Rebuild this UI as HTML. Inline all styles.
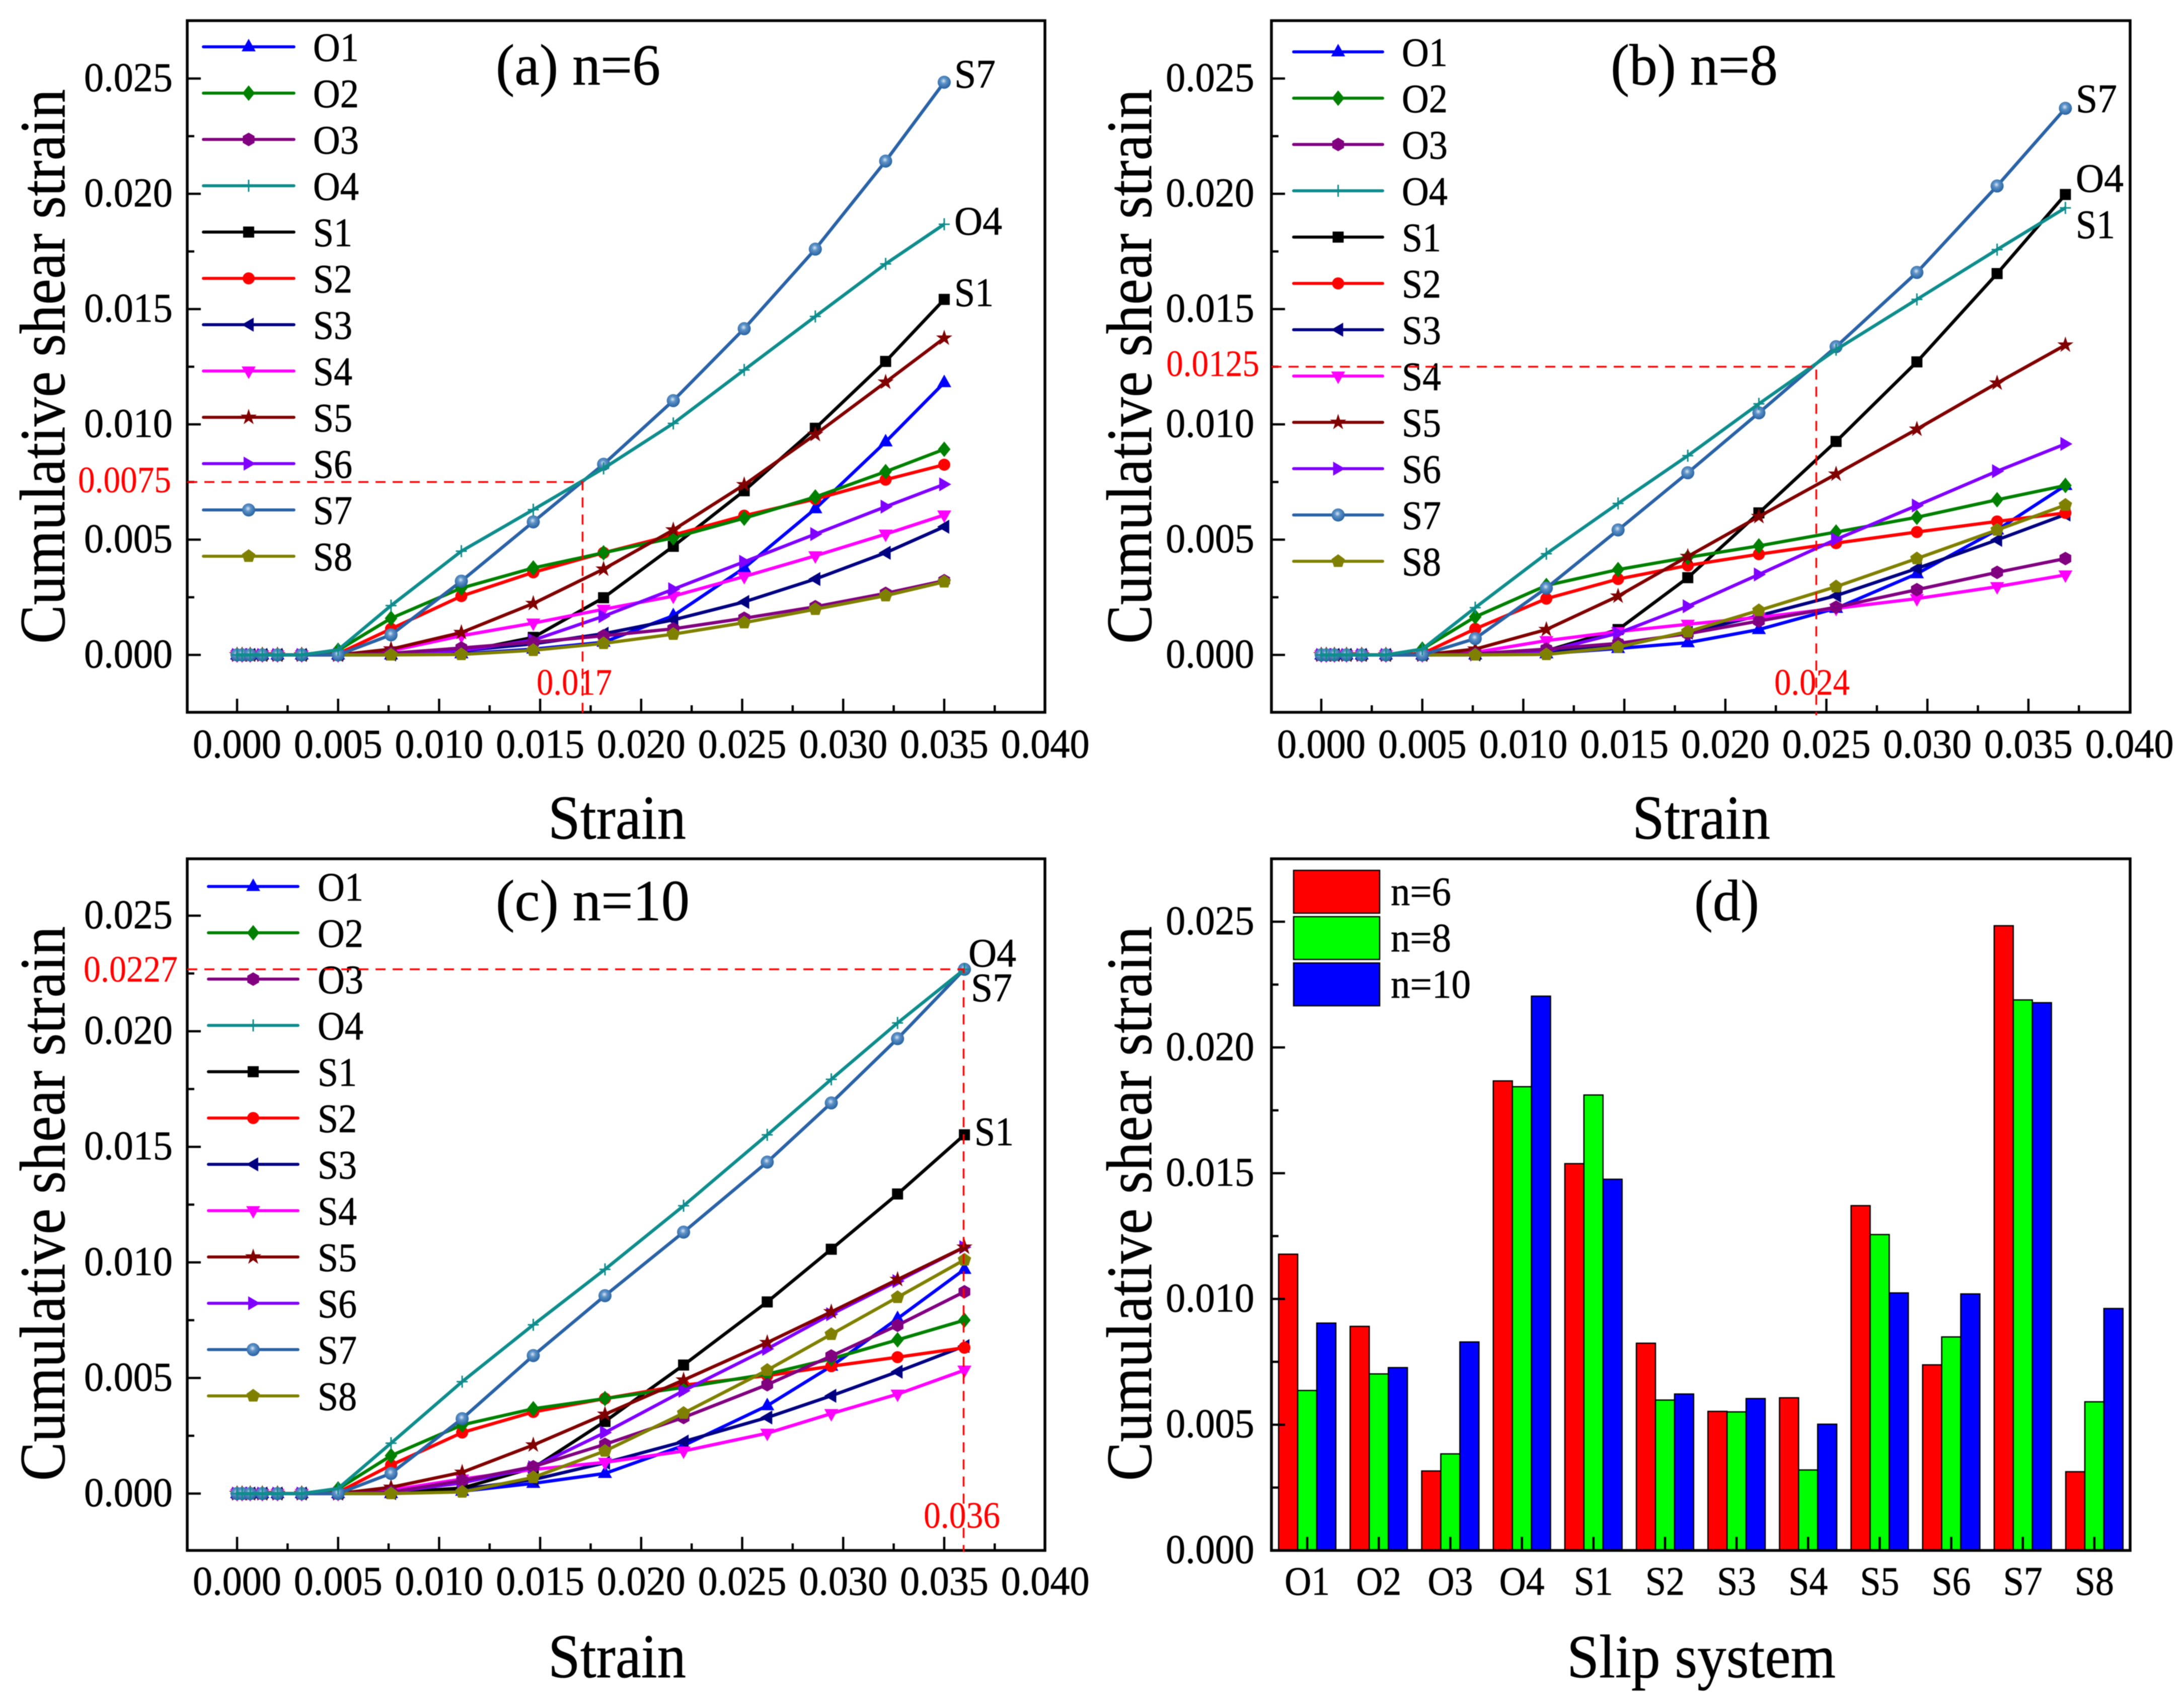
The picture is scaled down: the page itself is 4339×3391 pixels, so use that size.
<!DOCTYPE html>
<html lang="en">
<head>
<meta charset="utf-8">
<title>Cumulative shear strain of slip systems</title>
<style>
html,body{margin:0;padding:0;background:#fff;}
svg{display:block;filter:blur(0.8px);}
text{font-family:"Liberation Serif","Times New Roman",serif;fill:#000;stroke:#000;stroke-width:0.7px;}
</style>
</head>
<body>
<svg id="figure" xmlns="http://www.w3.org/2000/svg" width="4339" height="3391" viewBox="0 0 4339 3391">
<defs>
<radialGradient id="sphere" cx="0.45" cy="0.4" r="0.6">
<stop offset="0" stop-color="#d8e6f4"/>
<stop offset="0.35" stop-color="#5f93c8"/>
<stop offset="1" stop-color="#24609f"/>
</radialGradient>
</defs>
<rect x="0" y="0" width="4339" height="3391" fill="#fff"/>
</svg>
<script>
// ---------- shared data ----------
const slipSystems = ['O1','O2','O3','O4','S1','S2','S3','S4','S5','S6','S7','S8'];
const strainTicks = [0,0.005,0.01,0.015,0.02,0.025,0.03,0.035,0.04];
const strainTickLabels = ['0.000','0.005','0.010','0.015','0.020','0.025','0.030','0.035','0.040'];
const shearTicks = [0,0.005,0.01,0.015,0.02,0.025];
const shearTickLabels = ['0.000','0.005','0.010','0.015','0.020','0.025'];

// ---------- panel (a) n=6 ----------
const strainA = [0,0.00025,0.00065,0.00125,0.002,0.0032,0.005,0.00762,0.0111,0.01466,0.01814,0.02159,0.0251,0.02862,0.0321,0.035];
const a_O1 = [0,0,0,0,0,0,0,0,0.00005,0.00025,0.00055,0.0017,0.00377,0.00634,0.00924,0.01181];
const a_O2 = [0,0,0,0,0,0,0.0002,0.00159,0.0029,0.00377,0.00443,0.00508,0.00593,0.00685,0.00795,0.00892];
const a_O3 = [0,0,0,0,0,0,0,0.00007,0.0003,0.00055,0.00083,0.00113,0.00159,0.00209,0.00267,0.00322];
const a_O4 = [0,0,0,0,0,0,0.00022,0.00214,0.0045,0.0063,0.00809,0.01004,0.01236,0.01468,0.01696,0.01868];
const a_S1 = [0,0,0,0,0,0,0,0.00003,0.00014,0.00076,0.00248,0.00471,0.00712,0.00983,0.01273,0.01542];
const a_S2 = [0,0,0,0,0,0,0.00005,0.00113,0.00255,0.00358,0.00443,0.0052,0.00604,0.00676,0.0076,0.00825];
const a_S3 = [0,0,0,0,0,0,0,0.00002,0.00018,0.00048,0.00092,0.00152,0.0023,0.00329,0.00443,0.00556];
const a_S4 = [0,0,0,0,0,0,0,0.00018,0.00083,0.00138,0.00198,0.00255,0.0034,0.0043,0.00524,0.00607];
const a_S5 = [0,0,0,0,0,0,0,0.00025,0.00097,0.00223,0.00372,0.00542,0.00738,0.00956,0.01183,0.01374];
const a_S6 = [0,0,0,0,0,0,0,0.00005,0.00018,0.00064,0.00168,0.00285,0.00404,0.00524,0.00643,0.0074];
const a_S7 = [0,0,0,0,0,0,0,0.00087,0.0032,0.00577,0.00827,0.01103,0.01415,0.0176,0.02142,0.02484];
const a_S8 = [0,0,0,0,0,0,0,0,0.00002,0.0002,0.0005,0.0009,0.0014,0.00198,0.00257,0.00317];

// ---------- panel (b) n=8 ----------
const strainB = [0,0.00025,0.00065,0.00125,0.002,0.0032,0.005,0.00762,0.01114,0.01469,0.01814,0.02166,0.02548,0.02948,0.03345,0.03683];
const b_O1 = [0,0,0,0,0,0,0,0,0.00005,0.00028,0.00053,0.0011,0.00202,0.00352,0.00542,0.00735];
const b_O2 = [0,0,0,0,0,0,0.00025,0.00165,0.00301,0.0037,0.00423,0.00473,0.00533,0.00597,0.00673,0.00735];
const b_O3 = [0,0,0,0,0,0,0,0.00005,0.00025,0.0005,0.00092,0.00147,0.00207,0.00283,0.00358,0.00418];
const b_O4 = [0,0,0,0,0,0,0.00025,0.00205,0.00439,0.00657,0.00864,0.01089,0.01324,0.01542,0.01758,0.01939];
const b_S1 = [0,0,0,0,0,0,0,0.00002,0.00018,0.0011,0.00335,0.00616,0.00926,0.01271,0.01654,0.01997];
const b_S2 = [0,0,0,0,0,0,0.00005,0.00113,0.00244,0.00329,0.00388,0.00437,0.00485,0.00533,0.00579,0.00616];
const b_S3 = [0,0,0,0,0,0,0,0.00002,0.00014,0.00041,0.00097,0.0017,0.00257,0.00375,0.00499,0.00609];
const b_S4 = [0,0,0,0,0,0,0,0.00011,0.00062,0.00101,0.00133,0.00163,0.00202,0.00244,0.00296,0.00347];
const b_S5 = [0,0,0,0,0,0,0,0.00025,0.0011,0.00255,0.00427,0.006,0.00784,0.00979,0.01179,0.01344];
const b_S6 = [0,0,0,0,0,0,0,0.00002,0.00016,0.00094,0.00211,0.00349,0.00501,0.00648,0.00797,0.00915];
const b_S7 = [0,0,0,0,0,0,0,0.00071,0.0029,0.00542,0.0079,0.0105,0.01337,0.01659,0.02034,0.02371];
const b_S8 = [0,0,0,0,0,0,0,0,0.00002,0.00034,0.00101,0.00193,0.00296,0.00418,0.00542,0.0065];

// ---------- panel (c) n=10 ----------
const strainC = [0,0.00025,0.00065,0.00125,0.002,0.0032,0.005,0.00762,0.01114,0.01466,0.01821,0.0221,0.02624,0.02941,0.03269,0.036];
const c_O1 = [0,0,0,0,0,0,0,0,0.0001,0.00044,0.00087,0.00208,0.0038,0.00551,0.00757,0.0097];
const c_O2 = [0,0,0,0,0,0,0.0002,0.00164,0.00297,0.00367,0.00411,0.00459,0.00517,0.00583,0.00665,0.0075];
const c_O3 = [0,0,0,0,0,0,0,0.00007,0.00056,0.00116,0.00213,0.00329,0.00471,0.00595,0.00728,0.00873];
const c_O4 = [0,0,0,0,0,0,0.00022,0.00218,0.00484,0.0073,0.0097,0.01245,0.01552,0.01792,0.02036,0.02268];
const c_S1 = [0,0,0,0,0,0,0,0.00005,0.00024,0.00111,0.00312,0.00556,0.00829,0.01057,0.01296,0.01552];
const c_S2 = [0,0,0,0,0,0,0.00005,0.00123,0.00264,0.00353,0.00411,0.00469,0.0051,0.00551,0.0059,0.00631];
const c_S3 = [0,0,0,0,0,0,0,0.00002,0.00019,0.0006,0.00133,0.00225,0.00329,0.00423,0.00527,0.00638];
const c_S4 = [0,0,0,0,0,0,0,0.00015,0.00063,0.00104,0.00135,0.00184,0.00261,0.00346,0.0043,0.00534];
const c_S5 = [0,0,0,0,0,0,0,0.00027,0.00092,0.0021,0.00343,0.00491,0.00653,0.00786,0.00926,0.01066];
const c_S6 = [0,0,0,0,0,0,0,0.00007,0.00046,0.00114,0.00264,0.00445,0.00626,0.00776,0.00919,0.01066];
const c_S7 = [0,0,0,0,0,0,0,0.00087,0.00324,0.00597,0.00856,0.01131,0.01434,0.0169,0.01968,0.02268];
const c_S8 = [0,0,0,0,0,0,0,0,0.00007,0.0007,0.00184,0.00348,0.00534,0.00689,0.00849,0.01011];

// ---------- panel (d) bars ----------
const barN6 = [0.01178,0.00891,0.00316,0.01867,0.01538,0.00824,0.00553,0.00607,0.01371,0.00738,0.02484,0.00313];
const barN8 = [0.00636,0.00702,0.00384,0.01844,0.01811,0.00598,0.00551,0.0032,0.01256,0.00849,0.02189,0.00591];
const barN10 = [0.00904,0.00727,0.00829,0.02204,0.01476,0.00622,0.00604,0.00502,0.01024,0.0102,0.02178,0.00962];

// ---------- styling ----------
const seriesColor = {O1:'#0000ff',O2:'#008000',O3:'#800080',O4:'#0f8c8c',S1:'#000000',S2:'#ff0000',S3:'#000080',S4:'#ff00ff',S5:'#800000',S6:'#8000ff',S7:'#2a62a6',S8:'#808000'};
const drawOrder = ['O1','S3','S1','S2','O2','S4','S6','S5','O3','S8','S7','O4'];
const NS = 'http://www.w3.org/2000/svg';
const root = document.getElementById('figure');

function el(parent, tag, attrs){
  const e = document.createElementNS(NS, tag);
  for (const k in attrs) e.setAttribute(k, attrs[k]);
  parent.appendChild(e);
  return e;
}
function txt(parent, str, x, y, size, len, anchor, fill, rot){
  const t = document.createElementNS(NS, 'text');
  t.setAttribute('x', x);
  t.setAttribute('y', y);
  t.setAttribute('font-size', size);
  t.setAttribute('text-anchor', anchor || 'start');
  if (len) { t.setAttribute('textLength', len); t.setAttribute('lengthAdjust', 'spacingAndGlyphs'); }
  if (fill) { t.style.fill = fill; t.style.stroke = fill; t.style.strokeWidth = '0.3px'; }
  if (rot) t.setAttribute('transform', 'rotate(' + rot + ' ' + x + ' ' + y + ')');
  t.textContent = str;
  parent.appendChild(t);
  return t;
}
function poly(cx, cy, pts){
  return pts.map(p => (cx + p[0]).toFixed(1) + ',' + (cy + p[1]).toFixed(1)).join(' ');
}
function regular(n, r, start, inner){
  const out = [];
  const m = inner ? n * 2 : n;
  for (let i = 0; i < m; i++){
    const rad = inner && i % 2 ? inner : r;
    const a = start + i * 2 * Math.PI / m;
    out.push([rad * Math.cos(a), rad * Math.sin(a)]);
  }
  return out;
}
const shapes = {
  O1:[[0,-16],[14,9],[-14,9]],
  O2:[[0,-15.5],[12.5,0],[0,15.5],[-12.5,0]],
  O3:regular(6,13.5,-Math.PI/2),
  S3:[[-14,0],[10,-14],[10,14]],
  S4:[[-14,-9],[14,-9],[0,16]],
  S5:regular(5,17,-Math.PI/2,6.5),
  S6:[[14,0],[-10,-14],[-10,14]],
  S8:regular(5,14,-Math.PI/2)
};
function marker(parent, key, cx, cy){
  const c = seriesColor[key];
  if (shapes[key]) {
    el(parent, 'polygon', {points: poly(cx, cy, shapes[key]), fill: c});
  } else if (key === 'O4') {
    el(parent, 'path', {d: 'M' + (cx-11) + ' ' + cy + 'H' + (cx+11) + 'M' + cx + ' ' + (cy-12) + 'V' + (cy+12), stroke: c, 'stroke-width': 3, fill: 'none'});
  } else if (key === 'S1') {
    el(parent, 'rect', {x: cx-11, y: cy-11, width: 22, height: 22, fill: c});
  } else if (key === 'S2') {
    el(parent, 'circle', {cx: cx, cy: cy, r: 12, fill: c});
  } else if (key === 'S7') {
    el(parent, 'circle', {cx: cx, cy: cy, r: 13, fill: 'url(#sphere)'});
  }
}

// ---------- panel layouts ----------
const panelA = {id:'a',L:372,R:2076,T:41,B:1415,x0:471,xPer:200.7,y0:1301,yPer:229};
const panelB = {id:'b',L:2526,R:4232,T:41,B:1415,x0:2625,xPer:200.7,y0:1301,yPer:229};
const panelC = {id:'c',L:372,R:2076,T:1706,B:3080,x0:471,xPer:200.7,y0:2967,yPer:229.6};
const panelD = {id:'d',L:2526,R:4232,T:1706,B:3080,y0:3080,yPer:249.8};

function xOf(p, v){ return p.x0 + v / 0.005 * p.xPer; }
function yOf(p, v){ return p.y0 - v / 0.005 * p.yPer; }

function drawSeries(p, strain, table){
  const g = el(root, 'g', {});
  
  
  drawOrder.forEach(key => {
    const vals = table[key];
    const s = el(g, 'g', {});
    
    
    const d = vals.map((v, i) => (i ? 'L' : 'M') + xOf(p, strain[i]).toFixed(1) + ' ' + yOf(p, v).toFixed(1)).join('');
    const line = el(s, 'path', {d: d, fill: 'none', stroke: seriesColor[key], 'stroke-width': 6.5, 'stroke-linejoin': 'round'});
    
    
    vals.forEach((v, i) => marker(s, key, xOf(p, strain[i]), yOf(p, v)));
  });
}

function drawFrame(p){
  const f = el(root, 'rect', {x: p.L, y: p.T, width: p.R - p.L, height: p.B - p.T, fill: 'none', stroke: '#000', 'stroke-width': 5.5});
  
  
}

function yAxis(p, labelRight, titleX, titleMid, titleLen){
  const g = el(root, 'g', {});
  
  
  shearTicks.forEach((v, i) => {
    const y = yOf(p, v);
    if (p.id !== 'd' || i > 0) el(g, 'line', {x1: p.L, x2: p.L + 27, y1: y, y2: y, stroke: '#000', 'stroke-width': 4.5});
    if (i < shearTicks.length - 1) {
      const ym = yOf(p, v + 0.0025);
      el(g, 'line', {x1: p.L, x2: p.L + 14, y1: ym, y2: ym, stroke: '#000', 'stroke-width': 4.5});
    }
    const t = txt(g, shearTickLabels[i], labelRight, y + 25, 82, 176, 'end');
    
    
  });
  const ymTop = yOf(p, 0.0275);
  if (ymTop > p.T + 4) el(g, 'line', {x1: p.L, x2: p.L + 14, y1: ymTop, y2: ymTop, stroke: '#000', 'stroke-width': 4.5});
  const title = txt(g, 'Cumulative shear strain', titleX + 1, titleMid, 128, titleLen, 'middle', null, -90);
  
  
}

function xAxis(p, labelY, titleX, titleY){
  const g = el(root, 'g', {});
  
  
  strainTicks.forEach((v, i) => {
    const x = xOf(p, v);
    if (i < strainTicks.length - 1) {
      el(g, 'line', {x1: x, x2: x, y1: p.B, y2: p.B - 27, stroke: '#000', 'stroke-width': 4.5});
      const xm = xOf(p, v + 0.0025);
      el(g, 'line', {x1: xm, x2: xm, y1: p.B, y2: p.B - 14, stroke: '#000', 'stroke-width': 4.5});
    }
    const t = txt(g, strainTickLabels[i], x, labelY, 82, 176, 'middle');
    
    
  });
  const title = txt(g, 'Strain', titleX, titleY, 124, 274, 'middle');
  
  
}

function legend(p, lineL, lineR, textX, firstY, step){
  const g = el(root, 'g', {});
  
  
  slipSystems.forEach((key, i) => {
    const y = firstY + i * step;
    const row = el(g, 'g', {});
    
    
    el(row, 'line', {x1: lineL, x2: lineR, y1: y, y2: y, stroke: seriesColor[key], 'stroke-width': 6, 'stroke-linecap': 'round'});
    marker(row, key, (lineL + lineR) / 2, y);
    txt(row, key, textX, y + 28, 80, key[0] === 'O' ? 91 : 78);
  });
}

function redGuide(p, name, d){
  const g = el(root, 'path', {d: d, fill: 'none', stroke: '#ff0000', 'stroke-width': 3.5, 'stroke-dasharray': '20 14'});
  
  
}
function note(str, x, y, size, len, fill){
  const t = txt(root, str, x, y, size, len, 'start', fill);
  
  
}

// ---------- draw panels a, b, c ----------
const tableA = {O1:a_O1,O2:a_O2,O3:a_O3,O4:a_O4,S1:a_S1,S2:a_S2,S3:a_S3,S4:a_S4,S5:a_S5,S6:a_S6,S7:a_S7,S8:a_S8};
const tableB = {O1:b_O1,O2:b_O2,O3:b_O3,O4:b_O4,S1:b_S1,S2:b_S2,S3:b_S3,S4:b_S4,S5:b_S5,S6:b_S6,S7:b_S7,S8:b_S8};
const tableC = {O1:c_O1,O2:c_O2,O3:c_O3,O4:c_O4,S1:c_S1,S2:c_S2,S3:c_S3,S4:c_S4,S5:c_S5,S6:c_S6,S7:c_S7,S8:c_S8};

drawSeries(panelA, strainA, tableA);
drawFrame(panelA);
yAxis(panelA, 343, 127, 728, 1102);
xAxis(panelA, 1505, 1226, 1666);
legend(panelA, 404, 584, 622, 93, 92);
redGuide(panelA, 'a', 'M' + panelA.L + ' ' + yOf(panelA, 0.0075) + 'H' + xOf(panelA, 0.0171) + 'V' + (panelA.B + 6));
note('0.0075', 155, 978, 74, 185, '#ff0000');
note('0.017', 1066, 1380, 74, 150, '#ff0000');
note('S7', 1896, 174, 80, 82);
note('O4', 1896, 466, 80, 95);
note('S1', 1896, 608, 80, 78);
note('(a) n=6', 985, 168, 116, 327);

drawSeries(panelB, strainB, tableB);
drawFrame(panelB);
yAxis(panelB, 2492, 2286, 728, 1102);
xAxis(panelB, 1505, 3380, 1666);
legend(panelB, 2570, 2747, 2785, 103, 92);
redGuide(panelB, 'b', 'M' + panelB.L + ' ' + yOf(panelB, 0.0125) + 'H' + xOf(panelB, 0.0245) + 'V' + (panelB.B + 6));
note('0.0125', 2317, 747, 74, 185, '#ff0000');
note('0.024', 3525, 1380, 74, 150, '#ff0000');
note('S7', 4124, 223, 80, 82);
note('O4', 4124, 381, 80, 95);
note('S1', 4124, 473, 80, 78);
note('(b) n=8', 3200, 168, 116, 332);

drawSeries(panelC, strainC, tableC);
drawFrame(panelC);
yAxis(panelC, 343, 127, 2391, 1102);
xAxis(panelC, 3168, 1226, 3332);
legend(panelC, 414, 592, 631, 1761, 92);
redGuide(panelC, 'c', 'M' + panelC.L + ' ' + yOf(panelC, 0.02268) + 'H' + xOf(panelC, 0.03596) + 'V' + (panelC.B + 3));
note('0.0227', 166, 1950, 74, 187, '#ff0000');
note('0.036', 1835, 3035, 74, 152, '#ff0000');
note('O4', 1924, 1920, 80, 95);
note('S7', 1929, 1989, 80, 82);
note('S1', 1936, 2275, 80, 78);
note('(c) n=10', 985, 1828, 116, 385);

// ---------- draw panel d ----------
const barColors = ['#ff0000','#00ff00','#0000ff'];
const barSeries = [barN6, barN8, barN10];
const barNames = ['n=6','n=8','n=10'];
const catWidth = (panelD.R - panelD.L) / 12;
function catX(i){ return panelD.L + (i + 0.5) * catWidth; }
const barWidth = catWidth * 0.8 / 3;

const barGroup = el(root, 'g', {});


barSeries.forEach((vals, s) => {
  vals.forEach((v, i) => {
    const y = yOf(panelD, v);
    const r = el(barGroup, 'rect', {x: catX(i) + (s - 1.5) * barWidth, y: y, width: barWidth, height: panelD.y0 - y, fill: barColors[s], stroke: '#000', 'stroke-width': 2.5});
    
    
  });
});
drawFrame(panelD);
yAxis(panelD, 2492, 2286, 2391, 1102);
const catAxis = el(root, 'g', {});


slipSystems.forEach((name, i) => {
  el(catAxis, 'line', {x1: catX(i), x2: catX(i), y1: panelD.B, y2: panelD.B - 27, stroke: '#000', 'stroke-width': 4.5});
  const t = txt(catAxis, name, catX(i), 3168, 80, name[0] === 'O' ? 90 : 78, 'middle');
  
  
});
const slipTitle = txt(catAxis, 'Slip system', 3380, 3332, 122, 534, 'middle');



const barLegend = el(root, 'g', {});


barNames.forEach((name, i) => {
  const top = 1729 + i * 92;
  const row = el(barLegend, 'g', {});
  
  
  el(row, 'rect', {x: 2570, y: top, width: 171, height: 85, fill: barColors[i], stroke: '#000', 'stroke-width': 2.5});
  txt(row, name, 2763, top + 69, 80, name === 'n=10' ? 159 : 120);
});
note('(d)', 3366, 1828, 116, 129);
</script>
</body>
</html>
